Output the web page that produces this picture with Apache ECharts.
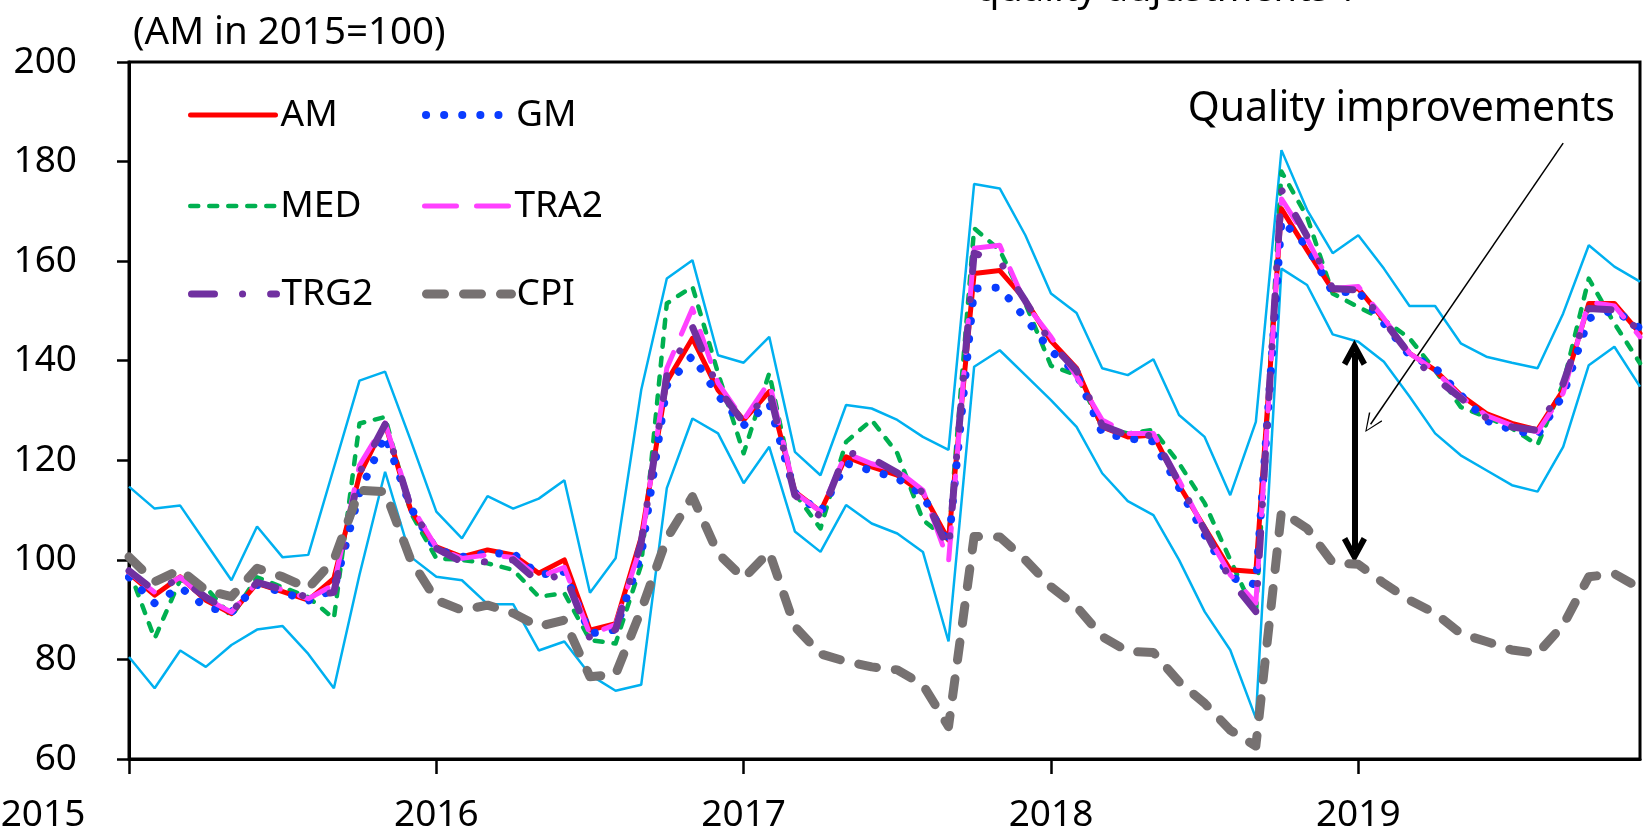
<!DOCTYPE html>
<html>
<head>
<meta charset="utf-8">
<script src="https://cdn.jsdelivr.net/npm/echarts@6/dist/echarts.min.js"></script>
<style>
  html, body { margin: 0; padding: 0; background: #fff; }
  #main { width: 1646px; height: 832px; }
</style>
</head>
<body>
<div id="main"></div>
<script>
// monthly, Jan 2015 .. Dec 2019 (index 0..59)
var yearLabels = ['2015', '2016', '2017', '2018', '2019'];
var yearTicks = [0, 12, 24, 36, 48];

var am = [97.3, 92.9, 96.6, 91.9, 89.2, 95.3, 93.6, 91.9, 96.3, 117, 127.4, 110,
  102.6, 100.6, 102, 101, 97.3, 100, 85.9, 87.2, 104.5, 135.8, 144.5, 134.1,
  128.1, 133.8, 113.7, 109.7, 120.7, 118.7, 117, 113.4, 104, 157.5, 158.1, 152.2,
  144, 138.5, 126.7, 124.7, 125.1, 115, 106.5, 98, 97.6, 170.5, 162.2, 154.2,
  154.5, 148.2, 141.5, 138.1, 133.1, 129.4, 127.4, 126.1, 134.1, 151.5, 151.5, 145.5];
var gm = [96.5, 91.3, 94.5, 90.5, 89.5, 95, 93.5, 91.8, 94, 113.5, 125, 110.5,
  102, 100.6, 101.3, 101.3, 97, 97.6, 85.2, 86, 101, 135, 141, 133,
  127, 131.5, 113.5, 109.5, 119.4, 117.9, 116.4, 113, 103, 154.5, 154.7, 148.5,
  142, 137.5, 125.5, 124.4, 123.8, 114.5, 105, 96.5, 95, 168.2, 163, 153.7,
  153.9, 147.5, 141.1, 138.6, 133.1, 128, 126.1, 125.1, 133.1, 148.5, 150.2, 146.5];
var med = [98, 84.2, 96, 94.5, 88.6, 96.5, 94.5, 92.5, 88.2, 127.4, 128.7, 109.5,
  100.3, 100, 99.3, 98, 92.6, 93.3, 83.9, 83.2, 99, 151.5, 154.9, 137.5,
  121.4, 137.5, 113.4, 106.3, 123.7, 128.1, 121.4, 108, 104, 166.6, 162.2, 151.5,
  139, 137.1, 126.7, 125.4, 126.1, 119.4, 111.4, 100, 88.9, 178, 168.9, 153.5,
  150.8, 148.2, 144.5, 138.1, 130.7, 128.7, 126.4, 123.1, 135.4, 156.5, 147.5, 139.5];
var tra2 = [97.5, 93.5, 96.5, 92.2, 89.5, 95.5, 94, 92.2, 95, 119, 127.5, 111,
  102.5, 100.3, 101, 100.5, 96.5, 98.5, 85, 87, 103, 138.5, 150.5, 135.5,
  128.1, 135.8, 113.5, 109.7, 121.4, 119.3, 118, 114, 99.6, 162.6, 163.2, 151.5,
  144.8, 136.8, 128.1, 125.4, 125.4, 116, 106, 97, 91.3, 172.5, 164.5, 154.5,
  154.9, 148.5, 141.5, 138, 132.8, 129, 127, 125.7, 133.5, 151.8, 151, 144.8];
var trg2 = [97.8, 93.8, 96.3, 92.5, 89.5, 95.5, 94, 92.5, 93.5, 117.5, 127.2, 110.5,
  102.3, 99.6, 99.6, 100, 95.5, 97.3, 84.2, 86, 103.5, 137, 146.8, 134.5,
  127.5, 134, 113, 108.7, 121.7, 120.4, 117.5, 113.5, 102, 161.6, 160, 152,
  143.5, 138, 127, 125, 125, 115.5, 106, 96, 89.6, 174.3, 165, 154.5,
  154.2, 148, 141.3, 136.5, 132.5, 128.5, 126.7, 126, 135.4, 150.5, 150.2, 146];
var cpi = [100.6, 95.6, 98, 93.9, 92.6, 98.3, 96.6, 94.3, 100, 114, 113.7, 100,
  91.9, 89.9, 90.9, 89.3, 86.6, 87.9, 76.5, 77, 89.9, 104.3, 112.7, 101.3,
  96.3, 101.6, 86.6, 81.1, 79.6, 78.5, 77.9, 74.9, 66.5, 104.7, 104.6, 100,
  94.6, 90.6, 84.6, 81.6, 81.4, 75.5, 71.2, 65.8, 62.6, 109.7, 106.3, 99.4,
  99.1, 95.3, 91.9, 89.3, 85.2, 83.6, 81.9, 81.2, 86.9, 96.6, 97.2, 94.3];
var upper = [114.7, 110.3, 110.9, 103.4, 95.9, 106.7, 100.5, 101, 118.5, 136, 137.8, 124,
  109.7, 104.3, 112.8, 110.3, 112.3, 116, 93.4, 100.3, 134.1, 156.5, 160.2, 141.1,
  139.6, 144.8, 121.7, 117, 131.1, 130.4, 128.1, 124.7, 122.1, 175.5, 174.6, 165.2,
  153.5, 149.6, 138.5, 137.1, 140.3, 129.1, 124.7, 113, 127.7, 182.3, 170.3, 161.6,
  165.2, 158.5, 151, 151, 143.5, 140.8, 139.6, 138.5, 149.5, 163.2, 158.9, 155.9];
var lower = [80.5, 74.2, 81.8, 78.5, 82.9, 86, 86.7, 81.1, 74.2, 97, 117.7, 100.6,
  96.6, 95.9, 91.1, 91.1, 81.8, 83.6, 76.9, 73.7, 74.9, 114.4, 128.4, 125.4,
  115.4, 122.7, 105.7, 101.6, 111, 107.3, 105.3, 101.6, 83.6, 138.8, 142.1, 137.1,
  132.1, 126.7, 117.4, 111.8, 109, 100, 89.6, 81.9, 68.2, 158.5, 155.2, 145.3,
  143.8, 139.8, 132.8, 125.4, 121, 118, 115, 113.7, 122.7, 139.1, 142.8, 134.8];

var FONT = '"Noto Sans", sans-serif';

function pairs(arr) {
  return arr.map(function (v, i) { return [i, v]; });
}

var chevronThick = 'path://M12,0 L24,22 L19,25 L12,12 L5,25 L0,22 Z';
var chevronThin = 'path://M8,0 L16,18 L14.8,18.8 L8,2.6 L1.2,18.8 L0,18 Z';

// line look of each series: colour, width, dash
var styles = {
  AM:   { color: '#ff0000', width: 5, type: 'solid' },
  GM:   { color: '#0a3cff', width: 8, type: [0.1, 18] },
  MED:  { color: '#00b050', width: 4.5, type: [8, 11] },
  TRA2: { color: '#ff40ff', width: 5, type: [32, 20] },
  TRG2: { color: '#7030a0', width: 7, type: [23, 28, 0.1, 28] },
  CPI:  { color: '#767171', width: 9, type: [18, 19] }
};

var myChart = echarts.init(document.getElementById('main'));

var legendNames = ['AM', 'GM', 'MED', 'TRA2', 'TRG2', 'CPI'];
var legendLeft = [188, 422];
var legendRowY = [115, 206, 294];

var legends = legendNames.map(function (n, k) {
  var s = styles[n];
  return {
    data: [n],
    left: legendLeft[k % 2],
    top: legendRowY[Math.floor(k / 2)] - 20,
    padding: 0,
    itemWidth: 85,
    itemHeight: 14,
    selectedMode: false,
    itemStyle: { opacity: 0 },
    lineStyle: { color: s.color, width: s.width, type: s.type, cap: 'round' },
    textStyle: { fontSize: 37, fontFamily: FONT, color: '#000', lineHeight: 40 }
  };
});

function line(name, data, z) {
  var s = styles[name];
  return {
    name: name,
    type: 'line',
    data: pairs(data),
    symbol: 'none',
    z: z,
    lineStyle: { color: s.color, width: s.width, type: s.type, cap: 'round', join: 'round' },
    itemStyle: { color: s.color }
  };
}

myChart.setOption({
  animation: false,
  legend: legends,
  grid: {
    left: 129, right: 6, top: 62, bottom: 73,
    show: true, borderColor: '#000', borderWidth: 3,
    outerBoundsMode: 'none'
  },
  xAxis: {
    type: 'value',
    min: 0,
    max: 59,
    interval: 12,
    axisLine: { lineStyle: { color: '#000', width: 3 } },
    axisTick: { customValues: yearTicks, length: 15, lineStyle: { color: '#000', width: 2.5 } },
    axisLabel: {
      customValues: yearTicks,
      margin: 38,
      fontSize: 37,
      fontFamily: FONT,
      color: '#000',
      formatter: function (v) {
        var lab = yearLabels[Math.round(v / 12)];
        return v === 0 ? '{a|' + lab + '}' : lab;
      },
      rich: {
        // first label sits against the left edge in the original
        a: { fontSize: 37, fontFamily: FONT, color: '#000', padding: [0, 172, 0, 0] }
      }
    },
    splitLine: { show: false }
  },
  yAxis: {
    type: 'value',
    min: 60,
    max: 200,
    interval: 20,
    axisLine: { show: true, lineStyle: { color: '#000', width: 3 } },
    axisTick: { show: true, length: 12, lineStyle: { color: '#000', width: 2.5 } },
    axisLabel: { margin: 52, fontSize: 37, fontFamily: FONT, color: '#000' },
    splitLine: { show: false }
  },
  graphic: [
    { type: 'text', style: { x: 133, y: 33, text: '(AM in 2015=100)', font: '38.5px ' + FONT, fill: '#000', verticalAlign: 'middle' } },
    { type: 'text', style: { x: 976, y: -10, text: 'quality adjustments\u201d.', font: '38px ' + FONT, fill: '#000', verticalAlign: 'middle' } },
    { type: 'text', style: { x: 1615, y: 109, text: 'Quality improvements', font: '41px ' + FONT, fill: '#000', align: 'right', verticalAlign: 'middle' } }
  ],
  series: [
    { type: 'line', name: 'upper', data: pairs(upper), symbol: 'none', z: 2, lineStyle: { color: '#00b0f0', width: 2.5 } },
    { type: 'line', name: 'lower', data: pairs(lower), symbol: 'none', z: 2, lineStyle: { color: '#00b0f0', width: 2.5 } },
    line('MED', med, 3),
    Object.assign(line('AM', am, 4), {
      markLine: {
        silent: true,
        animation: false,
        label: { show: false },
        emphasis: { disabled: true },
        data: [
          [
            { coord: [47.85, 141.6], symbol: chevronThick, symbolSize: [25, 26], lineStyle: { color: '#000', width: 6, type: 'solid' } },
            { coord: [47.85, 102.0], symbol: chevronThick, symbolSize: [25, 26] }
          ],
          [
            { coord: [56.0, 183.7], symbol: 'none', lineStyle: { color: '#000', width: 1.5, type: 'solid' } },
            { coord: [48.48, 127.24], symbol: chevronThin, symbolSize: [16, 19] }
          ]
        ]
      }
    }),
    line('GM', gm, 5),
    line('TRA2', tra2, 6),
    line('TRG2', trg2, 7),
    line('CPI', cpi, 8)
  ]
});
</script>
</body>
</html>
